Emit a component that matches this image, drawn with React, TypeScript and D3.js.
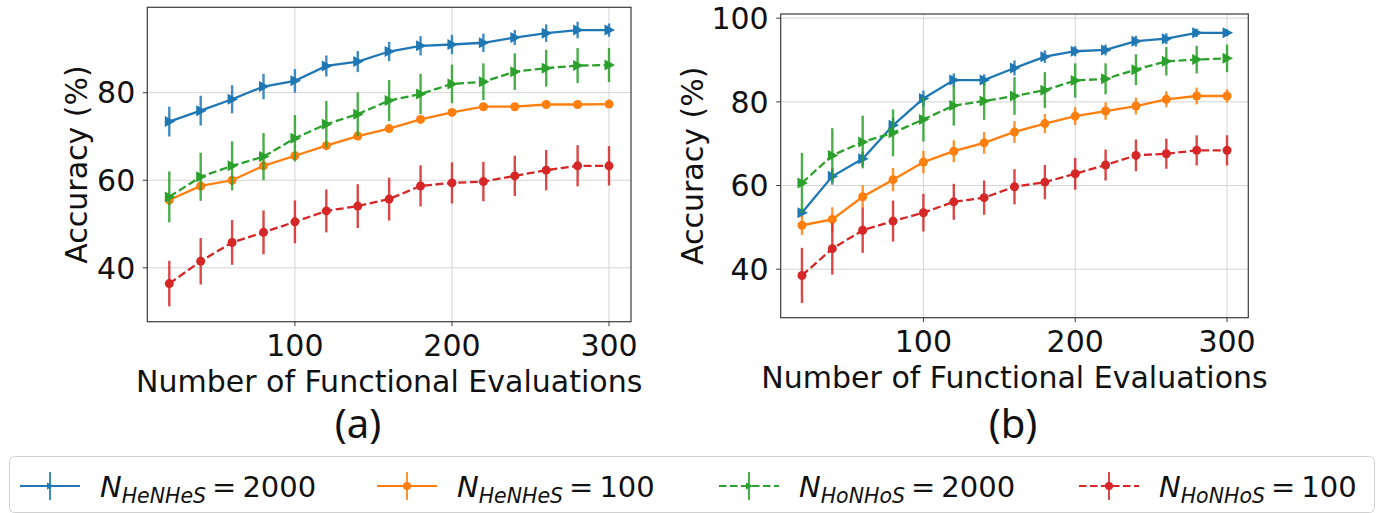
import React from "react";
import * as d3 from "d3";

const xValues = [20, 40, 60, 80, 100, 120, 140, 160, 180, 200, 220, 240, 260, 280, 300];
const xTicks = [100, 200, 300];

// Panel (a)
const aBlue = [73.4, 75.9, 78.5, 81.4, 82.7, 86.1, 87.1, 89.4, 90.7, 91.0, 91.4, 92.6, 93.6, 94.3, 94.3];
const aBlueErr = [3.4, 3.4, 3.2, 2.9, 2.7, 2.4, 2.4, 2.2, 2.2, 2.2, 2.1, 1.7, 2.0, 1.9, 1.5];
const aOrange = [55.5, 58.7, 60.0, 63.3, 65.6, 67.9, 70.1, 71.8, 73.9, 75.5, 76.8, 76.8, 77.3, 77.3, 77.4];
const aOrangeErr = [1.2, 1.0, 1.0, 1.0, 0.9, 0.8, 0.8, 0.7, 0.6, 0.6, 0.5, 0.5, 0.5, 0.5, 0.5];
const aGreen = [56.2, 60.8, 63.3, 65.4, 69.6, 72.8, 75.1, 78.2, 79.7, 82.0, 82.5, 84.8, 85.6, 86.2, 86.3];
const aGreenErr = [5.8, 5.5, 5.6, 5.4, 5.3, 5.3, 5.0, 4.7, 4.6, 4.4, 4.2, 4.2, 4.2, 4.0, 3.9];
const aRed = [36.4, 41.5, 45.8, 48.1, 50.5, 53.0, 54.1, 55.7, 58.7, 59.4, 59.7, 61.0, 62.3, 63.3, 63.3];
const aRedErr = [5.2, 5.3, 5.1, 5.0, 4.9, 4.9, 5.0, 4.9, 4.7, 4.7, 4.5, 4.6, 4.6, 4.7, 4.5];
const aYTicks = [40, 60, 80];

// Panel (b)
const bBlue = [53.5, 62.2, 66.4, 74.4, 80.8, 85.2, 85.2, 88.1, 90.8, 92.1, 92.4, 94.5, 95.1, 96.5, 96.5];
const bBlueErr = [1.0, 2.0, 1.7, 1.8, 1.9, 1.6, 1.4, 1.8, 1.5, 1.2, 1.3, 1.3, 1.3, 1.0, 0.8];
const bOrange = [50.5, 51.9, 57.3, 61.4, 65.6, 68.2, 70.2, 72.8, 74.8, 76.6, 77.8, 79.0, 80.6, 81.4, 81.4];
const bOrangeErr = [2.3, 2.9, 2.8, 2.8, 2.7, 2.6, 2.6, 2.6, 2.3, 2.1, 2.1, 2.0, 1.9, 2.0, 1.6];
const bGreen = [60.6, 67.2, 70.4, 72.6, 75.8, 79.1, 80.2, 81.4, 82.8, 85.1, 85.5, 87.7, 89.7, 90.1, 90.4];
const bGreenErr = [7.2, 6.5, 6.3, 5.6, 5.3, 4.8, 4.5, 4.5, 4.3, 4.1, 3.7, 3.7, 3.4, 3.3, 3.3];
const bRed = [38.5, 44.9, 49.3, 51.5, 53.5, 56.1, 57.1, 59.7, 60.8, 62.8, 64.9, 67.2, 67.6, 68.4, 68.4];
const bRedErr = [6.6, 6.2, 5.4, 4.9, 4.5, 4.3, 4.1, 4.2, 4.1, 3.8, 3.7, 3.8, 3.6, 3.6, 3.6];
const bYTicks = [40, 60, 80, 100];

const seriesNames = ["HeNHeS", "HeNHeS", "HoNHoS", "HoNHoS"];
const seriesCounts = ["2000", "100", "2000", "100"];
const seriesColors = ["#1f77b4", "#ff7f0e", "#2ca02c", "#d62728"];
const seriesDashed = [false, false, true, true];
const seriesMarker = ["tri", "circle", "tri", "circle"];

const FONT = "'DejaVu Sans', sans-serif";

type PanelProps = {
  left: number; right: number; top: number; bottom: number;
  yDomain: [number, number]; yTicks: number[];
  values: number[][]; errs: number[][];
  label: string; labelX: number; tagX: number;
};

function Marker({ kind, x, y, color }: { kind: string; x: number; y: number; color: string }) {
  if (kind === "circle") return <circle cx={x} cy={y} r={4.5} fill={color} />;
  const p = d3.path();
  p.moveTo(x - 4.5, y - 5.5);
  p.lineTo(x + 6, y);
  p.lineTo(x - 4.5, y + 5.5);
  p.closePath();
  return <path d={p.toString()} fill={color} />;
}

function Panel(props: PanelProps) {
  const { left, right, top, bottom, yDomain, yTicks, values, errs, label, labelX, tagX } = props;
  const x = d3.scaleLinear().domain([6, 314]).range([left, right]);
  const y = d3.scaleLinear().domain(yDomain).range([bottom, top]);
  const line = d3.line<number>().x((_, i) => x(xValues[i])).y((d) => y(d));
  return (
    <g>
      {xTicks.map((t) => (
        <line key={"gx" + t} x1={x(t)} x2={x(t)} y1={top} y2={bottom} stroke="#d4d4d4" strokeWidth={1} />
      ))}
      {yTicks.map((t) => (
        <line key={"gy" + t} x1={left} x2={right} y1={y(t)} y2={y(t)} stroke="#d4d4d4" strokeWidth={1} />
      ))}
      {values.map((vals, si) => (
        <g key={"s" + si}>
          {vals.map((v, i) => (
            <line key={"e" + i} x1={x(xValues[i])} x2={x(xValues[i])}
              y1={y(v - errs[si][i])} y2={y(v + errs[si][i])}
              stroke={seriesColors[si]} strokeWidth={2.4} opacity={0.85} />
          ))}
          <path d={line(vals) || ""} fill="none" stroke={seriesColors[si]} strokeWidth={2.3}
            strokeDasharray={seriesDashed[si] ? "8,3.5" : undefined} />
          {vals.map((v, i) => (
            <Marker key={"m" + i} kind={seriesMarker[si]} x={x(xValues[i])} y={y(v)} color={seriesColors[si]} />
          ))}
        </g>
      ))}
      <rect x={left} y={top} width={right - left} height={bottom - top} fill="none" stroke="#3a3a3a" strokeWidth={1.2} />
      {xTicks.map((t) => (
        <g key={"tx" + t}>
          <line x1={x(t)} x2={x(t)} y1={bottom} y2={bottom + 4.5} stroke="#3a3a3a" strokeWidth={1} />
          <text x={x(t)} y={bottom + 34} textAnchor="middle" fontFamily={FONT} fontSize={30} fill="#111">{t}</text>
        </g>
      ))}
      {yTicks.map((t) => (
        <g key={"ty" + t}>
          <line x1={left - 4.5} x2={left} y1={y(t)} y2={y(t)} stroke="#3a3a3a" strokeWidth={1} />
          <text x={left - 12} y={y(t)} dy="0.36em" textAnchor="end" fontFamily={FONT} fontSize={30} fill="#111">{t}</text>
        </g>
      ))}
      <text x={(left + right) / 2} y={bottom + 70} textAnchor="middle" fontFamily={FONT} fontSize={30} fill="#111">
        Number of Functional Evaluations
      </text>
      <text transform={`translate(${labelX},${(top + bottom) / 2}) rotate(-90)`} textAnchor="middle"
        dy="0.36em" fontFamily={FONT} fontSize={30} fill="#111">Accuracy (%)</text>
      <text x={tagX} y={438} textAnchor="middle"
        fontFamily="'Noto Sans', sans-serif" fontSize={40} fill="#111">{label}</text>
    </g>
  );
}

function Legend() {
  const itemX = [20, 377, 719, 1079];
  const ly = 486;
  return (
    <g>
      <rect x={9.5} y={456.5} width={1365} height={56} rx={5} fill="#fff" stroke="#d0d0d0" strokeWidth={1} />
      {itemX.map((x0, i) => (
        <g key={"l" + i}>
          <line x1={x0} x2={x0 + 60} y1={ly} y2={ly} stroke={seriesColors[i]} strokeWidth={2}
            strokeDasharray={seriesDashed[i] ? "7.5,3.5" : undefined} />
          <line x1={x0 + 30} x2={x0 + 30} y1={ly - 14} y2={ly + 14} stroke={seriesColors[i]} strokeWidth={2} opacity={0.85} />
          {seriesMarker[i] === "circle"
            ? <circle cx={x0 + 30} cy={ly} r={4} fill={seriesColors[i]} />
            : <path d={`M${x0 + 27},${ly - 3.5}L${x0 + 34},${ly}L${x0 + 27},${ly + 3.5}Z`} fill={seriesColors[i]} />}
          <text x={x0 + 80} y={ly + 11} fontFamily={FONT} fontSize={29} fill="#111">
            <tspan fontStyle="italic">N</tspan>
            <tspan fontStyle="italic" fontSize={20.5} dy={6}>{seriesNames[i]}</tspan>
            <tspan dy={-6} dx={6}>=</tspan>
            <tspan dx={6}>{seriesCounts[i]}</tspan>
          </text>
        </g>
      ))}
    </g>
  );
}

export default function App() {
  return (
    <svg width={1388} height={513} style={{ position: "absolute", left: 0, top: 0, background: "#fff" }}>
      <rect width={1388} height={513} fill="#fff" />
      <Panel left={147.3} right={631} top={7.3} bottom={321.7} yDomain={[27.7, 99.5]} yTicks={aYTicks}
        values={[aBlue, aOrange, aGreen, aRed]} errs={[aBlueErr, aOrangeErr, aGreenErr, aRedErr]}
        label="(a)" labelX={76} tagX={358} />
      <Panel left={780.7} right={1248.3} top={14} bottom={317.7} yDomain={[28.4, 101.0]} yTicks={bYTicks}
        values={[bBlue, bOrange, bGreen, bRed]} errs={[bBlueErr, bOrangeErr, bGreenErr, bRedErr]}
        label="(b)" labelX={692} tagX={1013} />
      <Legend />
    </svg>
  );
}
